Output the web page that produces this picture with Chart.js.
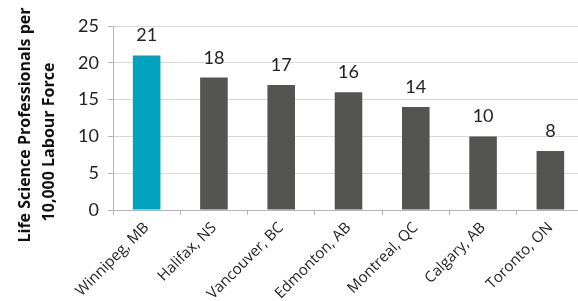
<!DOCTYPE html>
<html lang="en">
<head>
  <meta charset="UTF-8">
  <title>Life Science Professionals per 10,000 Labour Force</title>
  <script src="https://cdn.jsdelivr.net/npm/chart.js"></script>
  <style>
    html, body { margin: 0; padding: 0; overflow: hidden; background: #fff; }
    #wrap { width: 584px; height: 301px; }
  </style>
</head>
<body>
  <div id="wrap"><canvas id="lifeSciChart" width="584" height="301"></canvas></div>
  <script>
    const cities = ['Winnipeg, MB', 'Halifax, NS', 'Vancouver, BC', 'Edmonton, AB', 'Montreal, QC', 'Calgary, AB', 'Toronto, ON'];
    const professionals = [21, 18, 17, 16, 14, 10, 8];
    const yTicks = [0, 5, 10, 15, 20, 25];
    const axisTitle = ['Life Science Professionals per', '10,000 Labour Force'];

    const barColors = cities.map((c, i) => i === 0 ? '#00a3bd' : '#545553');

    // value labels above each bar
    const valueLabels = {
      id: 'valueLabels',
      afterDatasetsDraw(chart) {
        const ctx = chart.ctx;
        const meta = chart.getDatasetMeta(0);
        ctx.save();
        ctx.font = '18px Lato';
        ctx.fillStyle = '#222';
        ctx.textAlign = 'center';
        ctx.textBaseline = 'alphabetic';
        meta.data.forEach((bar, i) => {
          ctx.fillText(String(professionals[i]), bar.x, bar.y - 14);
        });
        ctx.restore();
      }
    };

    // two-line rotated y axis title
    const yTitle = {
      id: 'yTitle',
      afterDraw(chart) {
        const ctx = chart.ctx;
        const lines = [[25, 125], [49, 142]];
        lines.forEach(([x, y], i) => {
          ctx.save();
          ctx.font = 'bold 16px "Open Sans"';
          ctx.fillStyle = '#111';
          ctx.textAlign = 'center';
          ctx.textBaseline = 'middle';
          ctx.translate(x, y);
          ctx.rotate(-Math.PI / 2);
          ctx.fillText(axisTitle[i], 0, 0);
          ctx.restore();
        });
      }
    };

    new Chart(document.getElementById('lifeSciChart'), {
      type: 'bar',
      data: {
        labels: cities,
        datasets: [{
          data: professionals,
          backgroundColor: barColors,
          borderWidth: 0,
          barPercentage: 0.41,
          categoryPercentage: 1.0
        }]
      },
      options: {
        responsive: false,
        animation: false,
        layout: { padding: { top: 26, left: 0, right: 0, bottom: 0 } },
        plugins: {
          legend: { display: false },
          tooltip: { enabled: false }
        },
        scales: {
          x: {
            grid: {
              display: true,
              drawOnChartArea: false,
              offset: true,
              color: '#b5b5b5',
              tickLength: 5
            },
            border: { color: '#b5b5b5' },
            ticks: {
              font: { family: 'Open Sans', size: 15 },
              color: '#222',
              maxRotation: 45,
              minRotation: 45,
              padding: 4
            },
            afterFit(scale) { scale.height = 91; }
          },
          y: {
            min: 0,
            max: 25,
            afterBuildTicks(scale) { scale.ticks = yTicks.map(v => ({ value: v })); },
            grid: {
              color: '#d9d9d9',
              tickColor: '#b5b5b5',
              tickLength: 5
            },
            border: { color: '#b5b5b5' },
            ticks: {
              font: { family: 'Lato', size: 18 },
              color: '#222',
              padding: 9
            },
            afterFit(scale) { scale.width = 113; }
          }
        }
      },
      plugins: [valueLabels, yTitle]
    });
  </script>
</body>
</html>
